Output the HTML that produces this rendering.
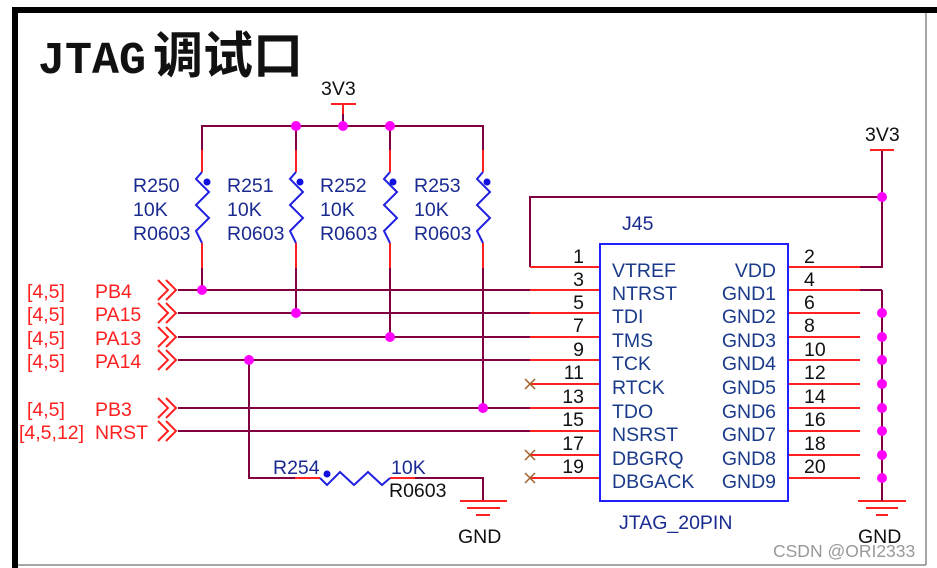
<!DOCTYPE html>
<html><head><meta charset="utf-8"><style>
html,body{margin:0;padding:0;background:#fff;}
svg{display:block;}
</style></head><body>
<svg width="937" height="568" viewBox="0 0 937 568" xmlns="http://www.w3.org/2000/svg" font-family="Liberation Sans, sans-serif">
<rect x="0" y="0" width="937" height="568" fill="#fff"/>
<rect x="12" y="7" width="925" height="6" fill="#000"/>
<rect x="12" y="7" width="6" height="561" fill="#000"/>
<line x1="926" y1="13" x2="926" y2="565" stroke="#888" stroke-width="1.5"/>
<line x1="18" y1="565" x2="926" y2="565" stroke="#888" stroke-width="1.5"/>
<text x="38" y="73" style="font-family:'Liberation Mono',monospace" font-weight="bold" font-size="45" fill="#111">JTAG</text>
<text x="153" y="73" style="font-family:'Noto Sans CJK SC',sans-serif" font-weight="bold" font-size="50" fill="#111">调试口</text>

<g fill="none" stroke-width="2">
<line x1="331" y1="104" x2="356" y2="104" stroke="#ff2020"/>
<line x1="343" y1="104" x2="343" y2="114" stroke="#ff2020"/>
<line x1="343" y1="114" x2="343" y2="126" stroke="#800040"/>
<polyline points="202,150 202,126 483,126 483,150" stroke="#800040"/>
</g>
<g fill="none" stroke-width="2">
<g stroke="#800040">
<line x1="296" y1="126" x2="296" y2="150"/><line x1="390" y1="126" x2="390" y2="150"/>
<line x1="202" y1="268" x2="202" y2="290"/>
<line x1="296" y1="268" x2="296" y2="313"/>
<line x1="390" y1="268" x2="390" y2="337"/>
<line x1="483" y1="268" x2="483" y2="408"/>
</g>
<g stroke="#ff2020">
<line x1="202" y1="150" x2="202" y2="172"/><line x1="202" y1="243" x2="202" y2="268"/>
<line x1="296" y1="150" x2="296" y2="172"/><line x1="296" y1="243" x2="296" y2="268"/>
<line x1="390" y1="150" x2="390" y2="172"/><line x1="390" y1="243" x2="390" y2="268"/>
<line x1="483" y1="150" x2="483" y2="172"/><line x1="483" y1="243" x2="483" y2="268"/>
</g>
<g stroke="#2020e0">
<polyline points="202,172 196,179 209,192 196,205 209,218 196,231 202,243"/>
<polyline points="296,172 290,179 303,192 290,205 303,218 290,231 296,243"/>
<polyline points="390,172 384,179 397,192 384,205 397,218 384,231 390,243"/>
<polyline points="483,172 477,179 490,192 477,205 490,218 477,231 483,243"/>
</g>
<g stroke="#800040">
<line x1="178" y1="290" x2="530" y2="290"/>
<line x1="178" y1="313" x2="530" y2="313"/>
<line x1="178" y1="337" x2="530" y2="337"/>
<line x1="178" y1="360" x2="530" y2="360"/>
<line x1="178" y1="408" x2="530" y2="408"/>
<line x1="178" y1="431" x2="530" y2="431"/>
<polyline points="530,267 530,197 882,197 882,267 860,267"/>
<polyline points="249,360 249,478 296,478"/>
<polyline points="415,478 483,478 483,500"/>
<line x1="882" y1="290" x2="882" y2="500"/>
<line x1="860" y1="290" x2="882" y2="290"/>
<line x1="882" y1="150" x2="882" y2="197"/>
</g>
<g stroke="#ff2020">
<path d="M158,280 L168,290 L158,300 M166,280 L176,290 L166,300"/>
<path d="M158,303 L168,313 L158,323 M166,303 L176,313 L166,323"/>
<path d="M158,327 L168,337 L158,347 M166,327 L176,337 L166,347"/>
<path d="M158,350 L168,360 L158,370 M166,350 L176,360 L166,370"/>
<path d="M158,398 L168,408 L158,418 M166,398 L176,408 L166,418"/>
<path d="M158,421 L168,431 L158,441 M166,421 L176,431 L166,441"/>
</g>
<g stroke="#ff2020">
<line x1="530" y1="267" x2="600" y2="267"/>
<line x1="530" y1="290" x2="600" y2="290"/>
<line x1="530" y1="313" x2="600" y2="313"/>
<line x1="530" y1="337" x2="600" y2="337"/>
<line x1="530" y1="360" x2="600" y2="360"/>
<line x1="530" y1="384" x2="600" y2="384"/>
<line x1="530" y1="408" x2="600" y2="408"/>
<line x1="530" y1="431" x2="600" y2="431"/>
<line x1="530" y1="455" x2="600" y2="455"/>
<line x1="530" y1="478" x2="600" y2="478"/>
<line x1="788" y1="267" x2="860" y2="267"/>
<line x1="788" y1="290" x2="860" y2="290"/>
<line x1="788" y1="313" x2="860" y2="313"/>
<line x1="788" y1="337" x2="860" y2="337"/>
<line x1="788" y1="360" x2="860" y2="360"/>
<line x1="788" y1="384" x2="860" y2="384"/>
<line x1="788" y1="408" x2="860" y2="408"/>
<line x1="788" y1="431" x2="860" y2="431"/>
<line x1="788" y1="455" x2="860" y2="455"/>
<line x1="788" y1="478" x2="860" y2="478"/>
<line x1="870" y1="150" x2="894" y2="150"/>
<line x1="858" y1="501" x2="906" y2="501"/>
<line x1="866" y1="508" x2="898" y2="508"/>
<line x1="876" y1="515" x2="888" y2="515"/>
<line x1="460" y1="501" x2="507" y2="501"/>
<line x1="467" y1="508" x2="500" y2="508"/>
<line x1="476" y1="515" x2="490" y2="515"/>
<line x1="295" y1="478" x2="320" y2="478"/><line x1="390" y1="478" x2="415" y2="478"/>
</g>
<line x1="882" y1="492" x2="882" y2="501" stroke="#800040"/>
<polyline points="320,478 327,485 340,472 354,485 368,472 382,485 390,478" stroke="#2020e0"/>
<g stroke="#a0602a" stroke-width="1.5">
<path d="M525,379 L535,389 M535,379 L525,389"/>
<path d="M525,450 L535,460 M535,450 L525,460"/>
<path d="M525,473 L535,483 M535,473 L525,483"/>
</g>
<rect x="600" y="244" width="188" height="257" stroke="#2020ff"/>
</g>
<g fill="#ff00ff">
<circle cx="296" cy="126" r="5"/><circle cx="343" cy="126" r="5"/><circle cx="390" cy="126" r="5"/>
<circle cx="202" cy="290" r="5"/><circle cx="296" cy="313" r="5"/><circle cx="390" cy="337" r="5"/>
<circle cx="249" cy="360" r="5"/><circle cx="483" cy="408" r="5"/>
<circle cx="882" cy="197" r="5"/>
<circle cx="882" cy="313" r="5"/><circle cx="882" cy="337" r="5"/><circle cx="882" cy="360" r="5"/>
<circle cx="882" cy="384" r="5"/><circle cx="882" cy="408" r="5"/><circle cx="882" cy="431" r="5"/>
<circle cx="882" cy="455" r="5"/><circle cx="882" cy="478" r="5"/>
</g>
<g fill="#1010e0">
<circle cx="207" cy="182" r="3.5"/><circle cx="300" cy="182" r="3.5"/><circle cx="393" cy="182" r="3.5"/><circle cx="487" cy="182" r="3.5"/>
<circle cx="327" cy="474" r="3.5"/>
</g>
<g font-size="19.5" fill="#111">
<text x="321" y="95">3V3</text>
<text x="865" y="141">3V3</text>
<text x="458" y="543">GND</text>
<text x="858" y="543">GND</text>
<text x="389" y="497">R0603</text>
</g>
<g font-size="19.5" fill="#1a2a90">
<text x="133" y="192">R250</text><text x="133" y="216">10K</text><text x="133" y="240">R0603</text>
<text x="227" y="192">R251</text><text x="227" y="216">10K</text><text x="227" y="240">R0603</text>
<text x="320" y="192">R252</text><text x="320" y="216">10K</text><text x="320" y="240">R0603</text>
<text x="414" y="192">R253</text><text x="414" y="216">10K</text><text x="414" y="240">R0603</text>
<text x="273" y="474">R254</text><text x="391" y="474">10K</text>
<text x="622" y="230">J45</text>
<text x="619" y="529">JTAG_20PIN</text>
</g>
<g font-size="19.5" fill="#ff2020">
<text x="27" y="298">[4,5]</text><text x="95" y="298">PB4</text>
<text x="27" y="321">[4,5]</text><text x="95" y="321">PA15</text>
<text x="27" y="345">[4,5]</text><text x="95" y="345">PA13</text>
<text x="27" y="368">[4,5]</text><text x="95" y="368">PA14</text>
<text x="27" y="416">[4,5]</text><text x="95" y="416">PB3</text>
<text x="19" y="439">[4,5,12]</text><text x="95" y="439">NRST</text>
</g>
<g font-size="19.5" fill="#1a3a8a">
<text x="612" y="277">VTREF</text><text x="612" y="300">NTRST</text><text x="612" y="323">TDI</text>
<text x="612" y="347">TMS</text><text x="612" y="370">TCK</text><text x="612" y="394">RTCK</text>
<text x="612" y="418">TDO</text><text x="612" y="441">NSRST</text><text x="612" y="465">DBGRQ</text>
<text x="612" y="488">DBGACK</text>
<g text-anchor="end">
<text x="776" y="277">VDD</text><text x="776" y="300">GND1</text><text x="776" y="323">GND2</text>
<text x="776" y="347">GND3</text><text x="776" y="370">GND4</text><text x="776" y="394">GND5</text>
<text x="776" y="418">GND6</text><text x="776" y="441">GND7</text><text x="776" y="465">GND8</text>
<text x="776" y="488">GND9</text>
</g>
</g>
<g font-size="19.5" fill="#111">
<g text-anchor="end">
<text x="584" y="263">1</text><text x="584" y="286">3</text><text x="584" y="309">5</text>
<text x="584" y="332">7</text><text x="584" y="356">9</text><text x="584" y="379">11</text>
<text x="584" y="403">13</text><text x="584" y="426">15</text><text x="584" y="450">17</text>
<text x="584" y="473">19</text>
</g>
<text x="804" y="263">2</text><text x="804" y="286">4</text><text x="804" y="309">6</text>
<text x="804" y="332">8</text><text x="804" y="356">10</text><text x="804" y="379">12</text>
<text x="804" y="403">14</text><text x="804" y="426">16</text><text x="804" y="450">18</text>
<text x="804" y="473">20</text>
</g>
<text x="773" y="557" font-size="17.5" fill="#999">CSDN @ORI2333</text>
</svg>
</body></html>
